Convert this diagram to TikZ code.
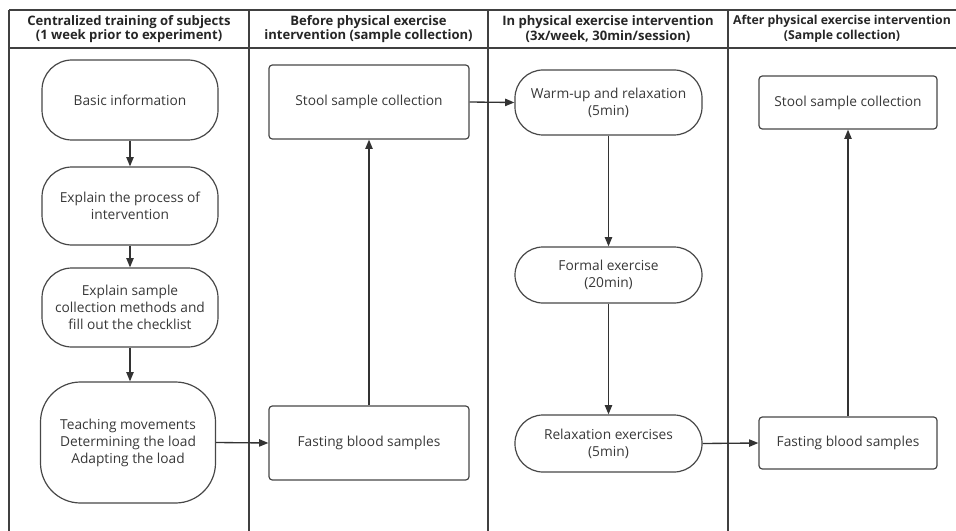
\documentclass[tikz,border=0pt]{standalone}
\usepackage{fontspec}
\setsansfont{Open Sans}
\renewcommand{\familydefault}{\sfdefault}
\usetikzlibrary{arrows.meta}

\begin{document}
\begin{tikzpicture}[x=0.75pt, y=-0.75pt,
    font=\fontsize{10.3}{12.8}\selectfont,
    lane/.style={line width=1.5pt, draw=black!75},
    stadium/.style={draw=black!72, line width=0.9pt, align=center, text=black!78,
      rounded corners=#1, inner sep=2pt},
    stadium/.default=22.5pt,
    box/.style={draw=black!72, line width=0.9pt, align=center, text=black!78,
      rounded corners=2.5pt, inner sep=2pt},
    flow/.style={-{Triangle[length=7pt,width=5.5pt]}, line width=1pt, draw=black!80},
    head/.style={font=\fontsize{9.8}{11}\selectfont\bfseries, align=center, text=black!85}]

  \useasboundingbox (0,0) rectangle (956,531);

  % Lanes
  \draw[lane] (9,10) -- (956,10);
  \draw[lane] (9,48) -- (956,48);
  \foreach \lx in {9,249,488,728}
    \draw[lane] (\lx,10) -- (\lx,531);

  \node[head] (h1) at (129,29) {Centralized training of subjects\\(1 week prior to experiment)};
  \node[head] (h2) at (368.5,29) {Before physical exercise\\intervention (sample collection)};
  \node[head] (h3) at (608,29) {In physical exercise intervention\\(3x/week, 30min/session)};
  \node[head, font=\fontsize{9.2}{11}\selectfont\bfseries] (h4) at (842,29) {After physical exercise intervention\\(Sample collection)};

  % Training
  \node[stadium, minimum width=132pt, minimum height=60pt] (basic) at (130,100) {Basic information};
  \node[stadium, minimum width=132pt, minimum height=58.5pt] (process) at (130,206) {Explain the process of\\intervention};
  \node[stadium, minimum width=132pt, minimum height=59.25pt] (sample) at (130,307.5) {Explain sample\\collection methods and\\fill out the checklist};
  \node[stadium=30pt, minimum width=131.25pt, minimum height=90.75pt] (teach) at (128,442.5) {Teaching movements\\Determining the load\\Adapting the load};

  % Before
  \node[box, minimum width=150pt, minimum height=55.5pt] (stoolA) at (369,102) {Stool sample collection};
  \node[box, minimum width=150pt, minimum height=55.5pt] (bloodA) at (369,443) {Fasting blood samples};

  % During
  \node[stadium=21pt, minimum width=140.25pt, minimum height=48.75pt] (warm) at (608.5,102.5) {Warm-up and relaxation\\(5min)};
  \node[stadium=21pt, minimum width=140.25pt, minimum height=42pt] (formal) at (608.5,275) {Formal exercise\\(20min)};
  \node[stadium=21pt, minimum width=140.25pt, minimum height=42.75pt] (relax) at (608.5,443.5) {Relaxation exercises\\(5min)};

  % After
  \node[box, minimum width=133.5pt, minimum height=39.75pt] (stoolB) at (848,102.5) {Stool sample collection};
  \node[box, minimum width=133.5pt, minimum height=39pt] (bloodB) at (848,443) {Fasting blood samples};

  \draw[flow] (basic) -- (process);
  \draw[flow] (process) -- (sample);
  \draw[flow] (sample.south) -- (sample.south |- teach.north);
  \draw[flow] (teach.east) -- (bloodA.west);
  \draw[flow] (bloodA) -- (stoolA);
  \draw[flow] (stoolA.east) -- (warm.west);
  \draw[flow] (warm) -- (formal);
  \draw[flow] (formal) -- (relax);
  \draw[flow] (relax.east) -- (bloodB.west);
  \draw[flow] (bloodB) -- (stoolB);
\end{tikzpicture}
\end{document}
